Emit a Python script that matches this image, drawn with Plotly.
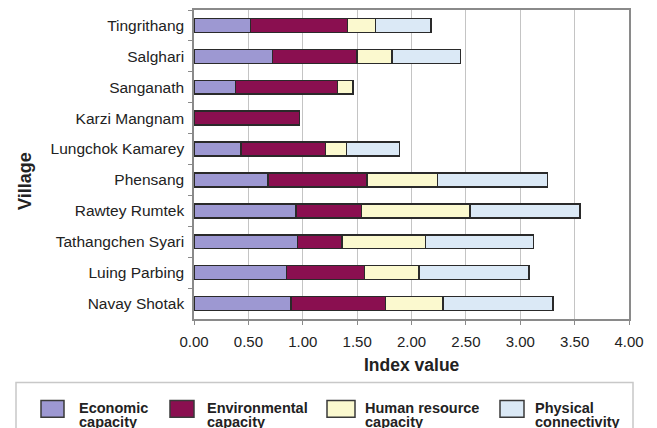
import plotly.graph_objects as go

# Villages listed top to bottom as they appear on the chart
villages = [
    "Tingrithang", "Salghari", "Sanganath", "Karzi Mangnam", "Lungchok Kamarey",
    "Phensang", "Rawtey Rumtek", "Tathangchen Syari", "Luing Parbing", "Navay Shotak",
]

# Component index values per village
economic = [0.52, 0.72, 0.38, 0.00, 0.43, 0.68, 0.94, 0.95, 0.85, 0.89]
environmental = [0.89, 0.78, 0.94, 0.97, 0.78, 0.91, 0.60, 0.41, 0.72, 0.87]
human_resource = [0.26, 0.32, 0.14, 0.00, 0.19, 0.65, 1.00, 0.77, 0.50, 0.53]
physical = [0.51, 0.63, 0.00, 0.00, 0.49, 1.01, 1.01, 0.99, 1.01, 1.01]

series_names = ["Economic capacity", "Environmental capacity",
                "Human resource capacity", "Physical connectivity"]
legend_lines = [("Economic", "capacity"), ("Environmental", "capacity"),
                ("Human resource", "capacity"), ("Physical", "connectivity")]
series_colors = ["#9d98d2", "#8a0f50", "#fbf9cf", "#dbe9f6"]
x_ticks = [0, 0.5, 1, 1.5, 2, 2.5, 3, 3.5, 4]

W, H = 657, 428
M_L, M_R, M_T, M_B = 194, 28, 8, 109
PW, PH = W - M_L - M_R, H - M_T - M_B


def px_x(px):
    return (px - M_L) / PW


def px_y(py):
    return (H - M_B - py) / PH


FONT = "Liberation Sans, Arial, sans-serif"

fig = go.Figure()
for name, vals, col in zip(series_names, [economic, environmental, human_resource, physical], series_colors):
    fig.add_trace(go.Bar(
        y=villages, x=vals, orientation="h", name=name,
        marker=dict(color=col, line=dict(color="#2a2a2a", width=1.5)),
        showlegend=False,
    ))

fig.update_layout(
    width=W, height=H,
    margin=dict(l=M_L, r=M_R, t=M_T, b=M_B),
    barmode="stack", bargap=0.55,
    paper_bgcolor="white", plot_bgcolor="white",
    font=dict(family=FONT, color="#222222"),
)
fig.update_xaxes(
    range=[0, 4], tickvals=x_ticks, ticktext=[f"{v:.2f}" for v in x_ticks],
    tickfont=dict(size=15, color="#222222"), ticklabelstandoff=4,
    showgrid=True, gridcolor="#c4c4c4", gridwidth=1,
    showline=True, linecolor="#8a8a8a", linewidth=1.5, mirror=True,
    ticks="outside", ticklen=4, tickcolor="#8a8a8a", zeroline=False,
)
fig.update_yaxes(
    autorange="reversed", tickfont=dict(size=15.5, color="#222222"), ticklabelstandoff=5,
    showline=True, linecolor="#8a8a8a", linewidth=1.5, mirror=True,
    ticks="outside", ticklen=4, tickcolor="#8a8a8a", tickson="boundaries",
    showgrid=False,
)

# Axis titles
fig.add_annotation(x=0.5, y=px_y(365), xref="paper", yref="paper", text="<b>Index value</b>",
                   showarrow=False, font=dict(size=17.5, color="#222222"), xanchor="center", yanchor="middle")
fig.add_annotation(x=px_x(25), y=px_y(180), xref="paper", yref="paper", text="<b>Village</b>",
                   showarrow=False, textangle=-90, font=dict(size=18, color="#222222"),
                   xanchor="center", yanchor="middle")

# Legend frame and entries
fig.add_shape(type="rect", xref="paper", yref="paper", x0=px_x(16), x1=px_x(633), y0=px_y(440), y1=px_y(383),
              line=dict(color="#c8c8c8", width=1.5), fillcolor="white", layer="below")
swatch_x = [41, 170, 327, 500]
swatch_w = [23, 24, 28, 24]
text_x = [77, 205, 363, 533]
for (l1, l2), col, sx, sw, tx in zip(legend_lines, series_colors, swatch_x, swatch_w, text_x):
    fig.add_shape(type="rect", xref="paper", yref="paper", x0=px_x(sx), x1=px_x(sx + sw),
                  y0=px_y(418), y1=px_y(401), fillcolor=col, line=dict(color="#3a3a3a", width=1.5))
    for txt, cy in ((l1, 408.5), (l2, 422.5)):
        fig.add_annotation(x=px_x(tx), y=px_y(cy), xref="paper", yref="paper", text=f"<b>{txt}</b>",
                           showarrow=False, align="left", xanchor="left", yanchor="middle",
                           font=dict(size=14.5, color="#222222"))

fig.write_html("out.html")
